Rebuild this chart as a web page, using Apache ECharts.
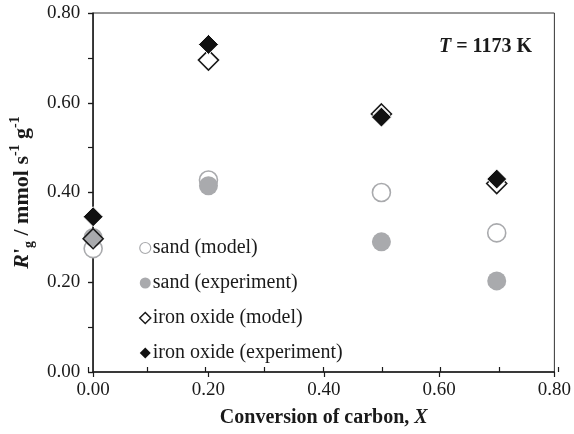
<!DOCTYPE html>
<html>
<head>
<meta charset="utf-8">
<script src="https://cdn.jsdelivr.net/npm/echarts@6/dist/echarts.min.js"></script>
<style>
  html, body { margin: 0; padding: 0; background: #fff; }
  #chart { width: 574px; height: 434px; }
</style>
</head>
<body>
<div id="chart"></div>
<script>
// Conversion of carbon X at which each rate was evaluated
const conversion = [0.00, 0.20, 0.50, 0.70];

// Gasification rate R'g (mmol s^-1 g^-1)
const sandModel = [0.275, 0.428, 0.400, 0.310];
const sandExperiment = [0.300, 0.415, 0.290, 0.203];
const ironOxideModel = [0.297, 0.695, 0.575, 0.420];
const ironOxideExperiment = [0.346, 0.730, 0.568, 0.430];

const seriesNames = ['sand (model)', 'sand (experiment)', 'iron oxide (model)', 'iron oxide (experiment)'];

const xTicks = { min: 0, max: 0.8, interval: 0.2 };
const yTicks = { min: 0, max: 0.8, interval: 0.2 };

const FONT = '"Liberation Serif", "Times New Roman", serif';
const INK = '#1a1a1a';
const GREY = '#a9aaad';

const pairs = (ys) => conversion.map((x, i) => [x, ys[i]]);
const fmt = (v) => v.toFixed(2);

const gridBox = { left: 88, right: 16, top: 13, bottom: 62 };

// Marker styles for the plotted points
const markers = [
  { symbol: 'circle', size: 18, item: { color: '#fff', borderColor: GREY, borderWidth: 1.6, opacity: 1 } },
  { symbol: 'circle', size: 19, item: { color: GREY, borderColor: GREY, borderWidth: 0, opacity: 1 } },
  { symbol: 'diamond', size: 20, item: { color: 'rgba(255,255,255,0)', borderColor: INK, borderWidth: 1.6, opacity: 1 } },
  { symbol: 'diamond', size: 20, item: { color: '#111', borderColor: '#fff', borderWidth: 1, opacity: 1 } }
];
// Smaller keys drawn in the legend
const legendKeys = [
  { color: '#fff', borderColor: GREY, borderWidth: 1.2, opacity: 1 },
  { color: GREY, borderColor: GREY, borderWidth: 0, opacity: 1 },
  { color: '#fff', borderColor: INK, borderWidth: 1.5, opacity: 1 },
  { color: '#111', borderColor: '#111', borderWidth: 0, opacity: 1 }
];

const chart = echarts.init(document.getElementById('chart'), null, { renderer: 'canvas' });

chart.setOption({
  backgroundColor: '#fff',
  animation: false,
  grid: [
    Object.assign({ show: true, borderColor: '#333', borderWidth: 1, backgroundColor: 'transparent' }, gridBox),
    Object.assign({ show: false }, gridBox)
  ],
  xAxis: [
    {
      type: 'value', gridIndex: 0, position: 'bottom',
      min: xTicks.min, max: xTicks.max, interval: xTicks.interval,
      axisLine: { show: true, lineStyle: { color: INK, width: 1.5 } },
      axisTick: { show: true, inside: false, length: 5, lineStyle: { color: INK, width: 1.2 } },
      axisLabel: { formatter: fmt, margin: 9, color: INK, fontFamily: FONT, fontSize: 19 },
      splitLine: { show: false },
      name: '{b|Conversion of carbon, }{bi|X}',
      nameLocation: 'middle', nameGap: 36,
      nameTextStyle: {
        rich: {
          b: { fontFamily: FONT, fontSize: 20, fontWeight: 'bold', color: INK },
          bi: { fontFamily: FONT, fontSize: 20, fontWeight: 'bold', fontStyle: 'italic', color: INK }
        }
      }
    },
    {
      type: 'value', gridIndex: 1, position: 'bottom',
      min: xTicks.min, max: xTicks.max, interval: xTicks.interval,
      axisLine: { show: false },
      axisTick: { show: true, inside: true, length: 5, lineStyle: { color: INK, width: 1.2 } },
      minorTick: { show: true, splitNumber: 2, length: 5, lineStyle: { color: INK, width: 1.2 } },
      axisLabel: { show: false },
      splitLine: { show: false }
    }
  ],
  yAxis: [
    {
      type: 'value', gridIndex: 0, position: 'left',
      min: yTicks.min, max: yTicks.max, interval: yTicks.interval,
      axisLine: { show: true, lineStyle: { color: INK, width: 1.5 } },
      axisTick: { show: true, inside: false, length: 5, lineStyle: { color: INK, width: 1.2 } },
      axisLabel: { formatter: fmt, margin: 13, color: INK, fontFamily: FONT, fontSize: 19 },
      splitLine: { show: false },
      name: "{bi|R}{b|'}{sub|g}{b| / mmol s}{sup|-1}{b| g}{sup|-1}",
      nameLocation: 'middle', nameRotate: 90, nameGap: 50,
      nameTextStyle: {
        rich: {
          bi: { fontFamily: FONT, fontSize: 22, fontWeight: 'bold', fontStyle: 'italic', color: INK, lineHeight: 28 },
          b: { fontFamily: FONT, fontSize: 22, fontWeight: 'bold', color: INK, lineHeight: 28 },
          sub: { fontFamily: FONT, fontSize: 14, fontWeight: 'bold', color: INK, lineHeight: 15, verticalAlign: 'bottom' },
          sup: { fontFamily: FONT, fontSize: 14, fontWeight: 'bold', color: INK, lineHeight: 15, verticalAlign: 'top' }
        }
      }
    },
    {
      type: 'value', gridIndex: 1, position: 'left',
      min: yTicks.min, max: yTicks.max, interval: yTicks.interval,
      axisLine: { show: false },
      axisTick: { show: true, inside: true, length: 5, lineStyle: { color: INK, width: 1.2 } },
      minorTick: { show: true, splitNumber: 2, length: 5, lineStyle: { color: INK, width: 1.2 } },
      axisLabel: { show: false },
      splitLine: { show: false }
    }
  ],
  legend: {
    orient: 'vertical',
    left: 134, top: 233,
    itemWidth: 11, itemHeight: 11,
    itemGap: 15,
    data: seriesNames.map((name, i) => ({ name, icon: markers[i].symbol, itemStyle: legendKeys[i] })),
    textStyle: { fontFamily: FONT, fontSize: 20, color: INK, padding: [0, 0, 0, -3] },
    selectedMode: false
  },
  graphic: [
    {
      type: 'text', right: 42, top: 37, z: 10,
      style: {
        text: '{bi|T}{b| = 1173 K}',
        rich: {
          bi: { fontFamily: FONT, fontSize: 20, fontWeight: 'bold', fontStyle: 'italic', fill: INK },
          b: { fontFamily: FONT, fontSize: 20, fontWeight: 'bold', fill: INK }
        }
      }
    }
  ],
  series: [sandModel, sandExperiment, ironOxideModel, ironOxideExperiment].map((values, i) => ({
    name: seriesNames[i], type: 'scatter', xAxisIndex: 0, yAxisIndex: 0, z: 3 + i,
    symbol: markers[i].symbol, symbolSize: markers[i].size,
    itemStyle: markers[i].item,
    emphasis: { disabled: true },
    data: pairs(values)
  }))
});
</script>
</body>
</html>
